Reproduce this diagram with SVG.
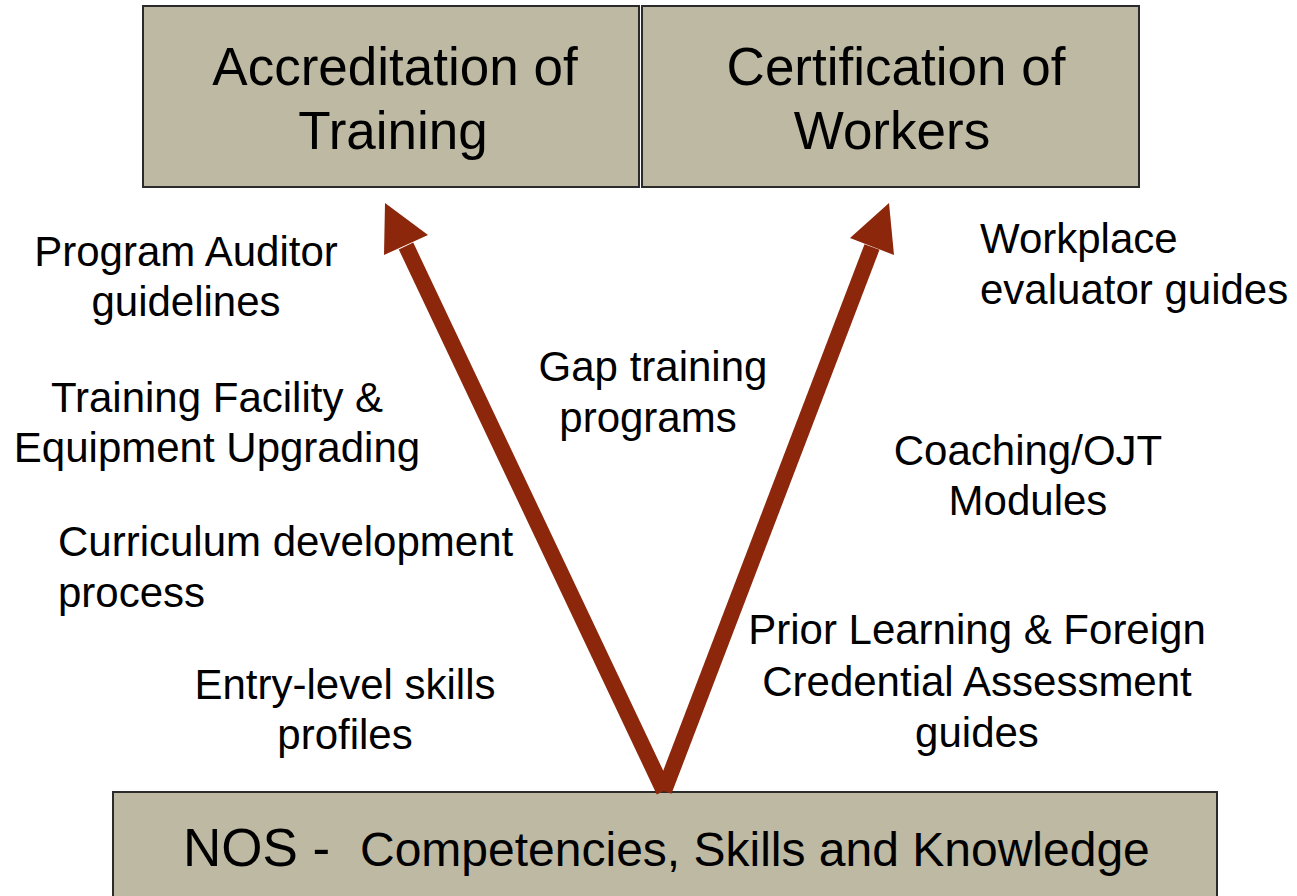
<svg xmlns="http://www.w3.org/2000/svg" width="1297" height="896" viewBox="0 0 1297 896">
  <style>
    .box { fill: #BEB9A3; stroke: #2b2b2b; stroke-width: 2; }
    .title { font-family: "Liberation Sans", Arial, sans-serif; font-size: 53px; fill: #000; text-anchor: middle; }
    .label { font-family: "Liberation Sans", Arial, sans-serif; font-size: 42px; fill: #000; }
    .mid { text-anchor: middle; }
    .shaft { stroke: #8C270B; stroke-width: 16; stroke-linecap: butt; fill: none; }
    .head { fill: #8C270B; }
  </style>

  <rect width="1297" height="896" fill="#ffffff"/>

  <!-- Top boxes -->
  <g id="accreditation">
    <rect class="box" x="143" y="6" width="496" height="181"/>
    <text class="title" x="395" y="85">Accreditation of</text>
    <text class="title" x="393" y="149">Training</text>
  </g>
  <g id="certification">
    <rect class="box" x="642" y="6" width="497" height="181"/>
    <text class="title" x="896" y="85">Certification of</text>
    <text class="title" x="892" y="149">Workers</text>
  </g>

  <!-- Base box -->
  <g id="nos">
    <rect class="box" x="113" y="792" width="1104" height="110"/>
    <text x="183" y="866" font-family="'Liberation Sans', Arial, sans-serif" fill="#000"><tspan font-size="53px">NOS -  </tspan><tspan font-size="48px" x="360">Competencies, Skills and Knowledge</tspan></text>
  </g>

  <!-- Side labels, left of the V -->
  <g id="program-auditor">
    <text class="label mid" x="186" y="266">Program Auditor</text>
    <text class="label mid" x="186" y="316">guidelines</text>
  </g>
  <g id="training-facility">
    <text class="label mid" x="217" y="412">Training Facility &amp;</text>
    <text class="label mid" x="217" y="462">Equipment Upgrading</text>
  </g>
  <g id="curriculum">
    <text class="label" x="58" y="556">Curriculum development</text>
    <text class="label" x="58" y="607">process</text>
  </g>
  <g id="entry-level">
    <text class="label mid" x="345" y="699">Entry-level skills</text>
    <text class="label mid" x="345" y="749">profiles</text>
  </g>

  <!-- Label inside the V -->
  <g id="gap-training">
    <text class="label mid" x="653" y="381">Gap training</text>
    <text class="label mid" x="648" y="432">programs</text>
  </g>

  <!-- Side labels, right of the V -->
  <g id="workplace">
    <text class="label" x="980" y="253">Workplace</text>
    <text class="label" x="980" y="304">evaluator guides</text>
  </g>
  <g id="coaching">
    <text class="label mid" x="1028" y="465">Coaching/OJT</text>
    <text class="label mid" x="1028" y="515">Modules</text>
  </g>
  <g id="prior-learning">
    <text class="label mid" x="977" y="644">Prior Learning &amp; Foreign</text>
    <text class="label mid" x="977" y="696">Credential Assessment</text>
    <text class="label mid" x="977" y="747">guides</text>
  </g>

  <!-- V-shaped arrows rising from the base -->
  <g id="connectors">
    <line class="shaft" x1="664" y1="791" x2="406" y2="246"/>
    <polygon class="head" points="385,203 384,255 428,235"/>
    <line class="shaft" x1="664" y1="791" x2="872" y2="247"/>
    <polygon class="head" points="889,203 850,238 894,255"/>
  </g>
</svg>
